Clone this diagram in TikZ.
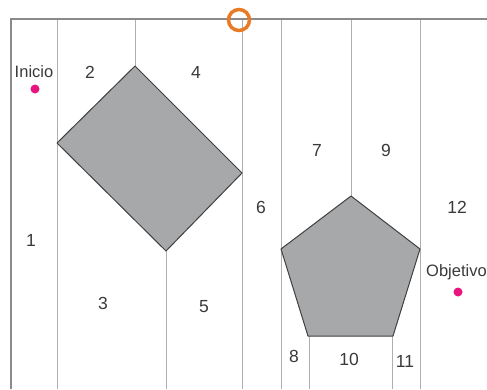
\documentclass[tikz,border=0pt]{standalone}
\usepackage{fontspec}
\setmainfont{Liberation Sans}
\definecolor{shapegray}{HTML}{A7A8AA}
\definecolor{linegray}{HTML}{AEAEAE}
\definecolor{framegray}{HTML}{8A8A8A}
\definecolor{dotpink}{HTML}{E8157E}
\definecolor{ringorange}{HTML}{E97A26}
\definecolor{txtgray}{HTML}{3A3A3A}
\tikzset{
  grid/.style={draw=linegray, line width=1pt},
  frame/.style={draw=framegray, line width=2pt},
  obstacle/.style={draw=black!75, line width=1pt, fill=shapegray, line join=round},
  num/.style={text=txtgray, font=\fontsize{17.5}{17.5}\selectfont, inner sep=0pt},
  lbl/.style={text=txtgray, font=\fontsize{16.5}{16.5}\selectfont, inner sep=0pt},
  pdot/.style={circle, fill=dotpink, inner sep=0pt, minimum size=9pt},
}
\begin{document}
\begin{tikzpicture}[x=1pt,y=-1pt]
\useasboundingbox (0,0) rectangle (487,389);
\fill[white] (0,0) rectangle (487,389);
% grid lines
\draw[grid] (57,19) -- (57,389);
\draw[grid] (135,19) -- (135,66);
\draw[grid] (166,251) -- (166,389);
\draw[grid] (242,19) -- (242,389);
\draw[grid] (281,19) -- (281,389);
\draw[grid] (351,19) -- (351,196);
\draw[grid] (309,336) -- (309,389);
\draw[grid] (392,336) -- (392,389);
\draw[grid] (420,19) -- (420,389);
% frame
\draw[frame] (11,389) -- (11,19) -- (487,19);
% obstacles
\draw[obstacle] (135,66) -- (242,173) -- (166,251) -- (57,143) -- cycle;
\draw[obstacle] (351,196) -- (420,249) -- (393,336) -- (308,336) -- (281,249) -- cycle;
% ring
\draw[ringorange, line width=3.5pt] (239,20) circle (10.5pt);
% labels
\node[lbl] (inicio) at (34,72) {Inicio};
\node[pdot] (start) at (35,89) {};
\node[lbl, anchor=west] (objetivo) at (426,272) {Objetivo};
\node[pdot] (goal) at (458,292) {};
\node[num] (n1) at (31,240) {1};
\node[num] (n2) at (90,72) {2};
\node[num] (n3) at (103,303) {3};
\node[num] (n4) at (196,72) {4};
\node[num] (n5) at (204,307) {5};
\node[num] (n6) at (261,207) {6};
\node[num] (n7) at (317,150) {7};
\node[num] (n8) at (294,356) {8};
\node[num] (n9) at (386,150) {9};
\node[num] (n10) at (349,359) {10};
\node[num] (n11) at (405,361) {11};
\node[num] (n12) at (457,207) {12};
\end{tikzpicture}
\end{document}
